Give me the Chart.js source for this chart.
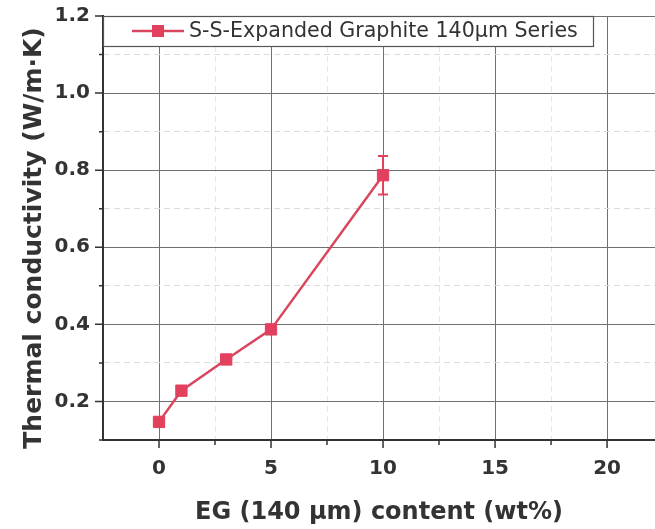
<!DOCTYPE html>
<html>
<head>
<meta charset="utf-8">
<script src="https://cdn.jsdelivr.net/npm/chart.js@4.4.1/dist/chart.umd.min.js"></script>
<style>
  html, body { margin: 0; padding: 0; background: #fff; overflow: hidden; }
  canvas { display: block; }
</style>
</head>
<body>
<canvas id="tcChart" width="655" height="529"></canvas>
<script>
// EG content (wt%) and measured thermal conductivity (W/m·K)
const egContent = [0, 1, 3, 5, 10];
const conductivity = [0.147, 0.228, 0.309, 0.387, 0.787];
const conductivityErr = [0, 0, 0, 0, 0.05];

const xMajorTicks = [0, 5, 10, 15, 20];
const xMinorTicks = [2.5, 7.5, 12.5, 17.5];
const yMajorTicks = [0.2, 0.4, 0.6, 0.8, 1.0, 1.2];
const yMinorTicks = [0.1, 0.3, 0.5, 0.7, 0.9, 1.1];

const seriesName = 'S-S-Expanded Graphite 140\u00b5m Series';
const yTitle = 'Thermal conductivity (W/m\u00b7K)';
const red = '#e2405c';
const ink = '#333333';
const fontFamily = '"DejaVu Sans", Arial, sans-serif';

function isMajor(axisMajors, v) {
    return axisMajors.some(m => Math.abs(m - v) < 1e-6);
}

function buildTicks(majors, minors) {
    return majors.concat(minors).sort((a, b) => a - b).map(v => ({ value: v }));
}

// error bars drawn under the markers
const errorBars = {
    id: 'errorBars',
    beforeDatasetsDraw(chart) {
        const ctx = chart.ctx;
        const xs = chart.scales.x, ys = chart.scales.y;
        ctx.save();
        ctx.strokeStyle = red;
        ctx.lineWidth = 2;
        conductivity.forEach((v, i) => {
            const e = conductivityErr[i];
            if (!e) return;
            const px = xs.getPixelForValue(egContent[i]);
            const top = ys.getPixelForValue(v + e);
            const bot = ys.getPixelForValue(v - e);
            ctx.beginPath();
            ctx.moveTo(px, top); ctx.lineTo(px, bot);
            ctx.moveTo(px - 5, top); ctx.lineTo(px + 5, top);
            ctx.moveTo(px - 5, bot); ctx.lineTo(px + 5, bot);
            ctx.stroke();
        });
        ctx.restore();
    }
};

// outward tick marks, long for major and short for minor
const axisTicks = {
    id: 'axisTicks',
    afterDraw(chart) {
        const ctx = chart.ctx;
        const xs = chart.scales.x, ys = chart.scales.y;
        const area = chart.chartArea;
        ctx.save();
        ctx.strokeStyle = ink;
        ctx.lineWidth = 1.5;
        ctx.beginPath();
        xs.ticks.forEach(t => {
            const px = xs.getPixelForValue(t.value);
            const len = isMajor(xMajorTicks, t.value) ? 8 : 5;
            ctx.moveTo(px, area.bottom); ctx.lineTo(px, area.bottom + len);
        });
        ys.ticks.forEach(t => {
            const py = ys.getPixelForValue(t.value);
            const len = isMajor(yMajorTicks, t.value) ? 8 : 4;
            ctx.moveTo(area.left, py); ctx.lineTo(area.left - len, py);
        });
        ctx.stroke();
        ctx.restore();
    }
};

// rotated y-axis title, sitting a little below the plot's middle
const yAxisTitle = {
    id: 'yAxisTitle',
    afterDraw(chart) {
        const ctx = chart.ctx;
        const area = chart.chartArea;
        ctx.save();
        ctx.translate(34, (area.top + area.bottom) / 2 + 10);
        ctx.rotate(-Math.PI / 2);
        ctx.fillStyle = ink;
        ctx.font = 'bold 25px ' + fontFamily;
        ctx.textAlign = 'center';
        ctx.textBaseline = 'middle';
        ctx.fillText(yTitle, 0, 0);
        ctx.restore();
    }
};

// boxed legend sitting in the top-left corner of the plot
const boxLegend = {
    id: 'boxLegend',
    afterDraw(chart) {
        const ctx = chart.ctx;
        const area = chart.chartArea;
        const ds = chart.data.datasets[0];
        const x0 = area.left, y0 = area.top, w = 593 - area.left, h = 30;
        ctx.save();
        ctx.fillStyle = '#fff';
        ctx.fillRect(x0 + 1, y0 + 1, w - 1, h - 1);
        ctx.strokeStyle = '#555';
        ctx.lineWidth = 1.2;
        ctx.strokeRect(x0 + 0.5, y0 + 0.5, w, h);
        const cy = y0 + h / 2;
        ctx.strokeStyle = ds.borderColor;
        ctx.lineWidth = 2.5;
        ctx.beginPath();
        ctx.moveTo(132, cy); ctx.lineTo(184, cy);
        ctx.stroke();
        ctx.fillStyle = ds.pointBackgroundColor;
        ctx.fillRect(152, cy - 6, 12, 12);
        ctx.fillStyle = ink;
        ctx.font = '20.6px ' + fontFamily;
        ctx.textBaseline = 'middle';
        ctx.fillText(ds.label, 189, cy + 1);
        ctx.restore();
    }
};

new Chart(document.getElementById('tcChart').getContext('2d'), {
    type: 'line',
    data: {
        datasets: [{
            label: seriesName,
            data: egContent.map((x, i) => ({ x: x, y: conductivity[i] })),
            borderColor: '#d9475f',
            borderWidth: 2.5,
            backgroundColor: red,
            pointBackgroundColor: red,
            pointBorderColor: red,
            pointBorderWidth: 1,
            pointStyle: 'rect',
            pointRadius: 8,
            tension: 0
        }]
    },
    options: {
        responsive: false,
        animation: false,
        layout: { autoPadding: false, padding: { top: 16, right: 0, bottom: 0, left: 0 } },
        plugins: {
            legend: { display: false },
            tooltip: { enabled: false }
        },
        scales: {
            x: {
                type: 'linear',
                min: -2.5,
                max: 22.14,
                afterBuildTicks: s => { s.ticks = buildTicks(xMajorTicks, xMinorTicks); },
                afterFit: s => { s.height = 89; s.paddingLeft = 0; s.paddingRight = 0; },
                ticks: {
                    autoSkip: false,
                    maxRotation: 0,
                    padding: 17,
                    color: ink,
                    font: { family: fontFamily, size: 20, weight: 'bold' },
                    callback: v => isMajor(xMajorTicks, v) ? String(v) : ''
                },
                grid: {
                    drawTicks: false,
                    lineWidth: 1,
                    color: c => isMajor(xMajorTicks, c.tick.value) ? '#707070' : '#e6e6e6'
                },
                border: { color: ink, width: 2, dash: c => (c.tick && !isMajor(xMajorTicks, c.tick.value)) ? [6, 4] : [] },
                title: {
                    display: true,
                    text: 'EG (140 \u00b5m) content (wt%)',
                    color: ink,
                    font: { family: fontFamily, size: 24, weight: 'bold' },
                    padding: { top: 0, bottom: 2 }
                }
            },
            y: {
                type: 'linear',
                min: 0.1,
                max: 1.2,
                afterBuildTicks: s => { s.ticks = buildTicks(yMajorTicks, yMinorTicks); },
                afterFit: s => { s.width = 103; s.paddingTop = 0; s.paddingBottom = 0; },
                ticks: {
                    autoSkip: false,
                    padding: 13,
                    color: ink,
                    font: { family: fontFamily, size: 20, weight: 'bold' },
                    callback: v => isMajor(yMajorTicks, v) ? v.toFixed(1) : ''
                },
                grid: {
                    drawTicks: false,
                    lineWidth: 1,
                    color: c => isMajor(yMajorTicks, c.tick.value) ? '#707070' : '#dcdcdc'
                },
                border: { color: ink, width: 2, dash: c => (c.tick && !isMajor(yMajorTicks, c.tick.value)) ? [6, 4] : [] }
            }
        }
    },
    plugins: [errorBars, axisTicks, yAxisTitle, boxLegend]
});
</script>
</body>
</html>
